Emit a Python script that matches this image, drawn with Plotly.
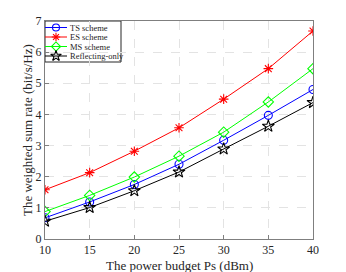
import plotly.graph_objects as go

x = [10, 15, 20, 25, 30, 35, 40]
ts = [0.68, 1.19, 1.75, 2.40, 3.17, 3.97, 4.80]
es = [1.58, 2.13, 2.82, 3.57, 4.49, 5.47, 6.68]
ms = [0.88, 1.40, 1.99, 2.66, 3.43, 4.40, 5.47]
ro = [0.57, 1.01, 1.55, 2.15, 2.89, 3.62, 4.38]
names = ["TS scheme", "ES scheme", "MS scheme", "Reflecting-only"]
colors = ["#0000FF", "#FF0000", "#00FF00", "#000000"]
symbols = ["circle-open", "asterisk-open", "diamond-open", "star-open"]
sizes = [8, 8, 8, 9]
x_title = "The power budget Ps (dBm)"
y_title = "The weighted sum rate (bit/s/Hz)"

# page body has an 8px default margin, so the figure is sized/offset to compensate
W, H = 338, 264
ML, MT = 37, 13
PW, PH = 268, 218
MR, MB = W - ML - PW, H - MT - PH
TXT = "#262626"
FONT = "Liberation Serif"

fig = go.Figure()
for ys, n, c, s, sz in zip([ts, es, ms, ro], names, colors, symbols, sizes):
    fig.add_trace(go.Scatter(x=x, y=ys, name=n, mode="lines+markers", showlegend=False,
                             line=dict(color=c, width=1),
                             marker=dict(symbol=s, size=sz, color=c,
                                         line=dict(color=c, width=1.1))))

# compact MATLAB-style legend drawn in a pixel-unit overlay axis
row_y = [6.5, 16, 25.5, 35]
for i, (n, c, s, sz) in enumerate(zip(names, colors, symbols, sizes)):
    fig.add_shape(type="line", xref="x2", yref="y2", x0=0, x1=22, y0=row_y[i], y1=row_y[i],
                  line=dict(color=c, width=1))
    fig.add_trace(go.Scatter(x=[11], y=[row_y[i]], xaxis="x2", yaxis="y2", mode="markers",
                             showlegend=False, hoverinfo="skip",
                             marker=dict(symbol=s, size=sz - 1, color=c,
                                         line=dict(color=c, width=1.1))))
    fig.add_annotation(xref="x2", yref="y2", x=23, y=row_y[i], text=n, showarrow=False,
                       xanchor="left", yanchor="middle",
                       font=dict(family=FONT, size=8.5, color=TXT))
fig.add_shape(type="rect", xref="x2", yref="y2", x0=0, x1=76, y0=0, y1=41,
              line=dict(color="#262626", width=1), fillcolor="white", layer="below")

# axis titles as annotations for precise placement
fig.add_annotation(xref="paper", yref="paper", x=0.5, y=0, yshift=-26, text=x_title,
                   showarrow=False, xanchor="center", yanchor="middle",
                   font=dict(family=FONT, size=13, color=TXT))
fig.add_annotation(xref="paper", yref="paper", x=0, y=0.5, xshift=-18, text=y_title,
                   textangle=-90, showarrow=False, xanchor="center", yanchor="middle",
                   font=dict(family=FONT, size=13, color=TXT))

axis_common = dict(showline=True, linecolor="#7f7f7f", linewidth=1, mirror=True,
                   ticks="inside", ticklen=4, tickcolor="#7f7f7f",
                   showgrid=True, gridcolor="#E3E3E3", griddash="dash", gridwidth=1,
                   zeroline=False, automargin=False,
                   tickfont=dict(family=FONT, size=12, color=TXT))

fig.update_layout(
    width=W, height=H,
    margin=dict(l=ML, r=MR, t=MT, b=MB),
    paper_bgcolor="white", plot_bgcolor="white",
    font=dict(family=FONT, color=TXT),
    xaxis=dict(range=[10, 40], dtick=5, anchor="y", **axis_common),
    yaxis=dict(range=[0, 7], dtick=1, anchor="x", **axis_common),
    xaxis2=dict(overlaying="x", anchor="y2", range=[0, PW], visible=False, fixedrange=True),
    yaxis2=dict(overlaying="y", anchor="x2", range=[PH, 0], visible=False, fixedrange=True),
    showlegend=False,
)
fig.write_html("out.html")
